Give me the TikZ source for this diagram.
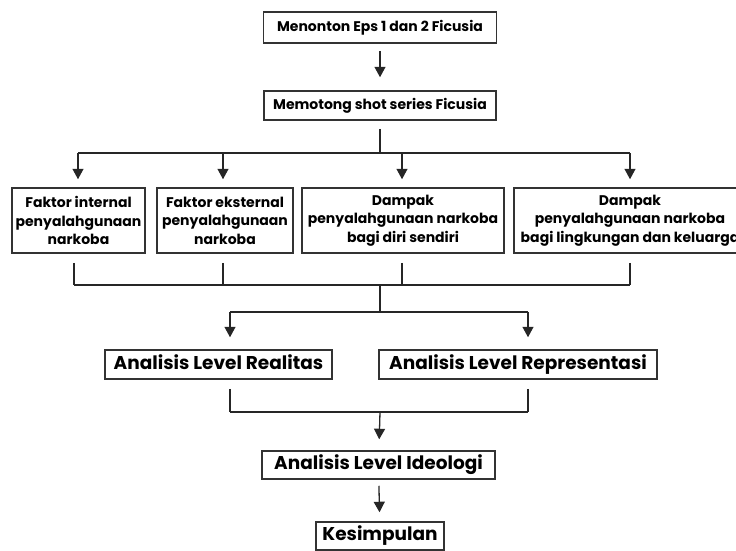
\documentclass[tikz,border=0pt]{standalone}
\usepackage{fontspec}
\setmainfont{Poppins}
\usetikzlibrary{arrows.meta}
\tikzstyle{box}=[draw=black!80,line width=1.5pt,inner sep=0pt,align=center,font=\bfseries\fontsize{14}{18.5}\selectfont]
\tikzstyle{single}=[box,text height=10pt,text depth=3pt]
\tikzstyle{level}=[box,font=\bfseries\fontsize{18.5}{20}\selectfont,text height=13pt,text depth=4pt]
\tikzstyle{arrow}=[->,>={Triangle[length=10.5pt,width=11pt]}]
\tikzset{every picture/.style={
    line width=1.3pt
  }
}

\begin{document}
\begin{tikzpicture}[x=1pt,y=-1pt,draw=black!85]
      \useasboundingbox (0,0) rectangle (736,550);
      % boxes
      \node[single,minimum width=233,minimum height=31] at (380,27.5) (eps) {Menonton Eps 1 dan 2 Ficusia};
      \node[single,minimum width=232,minimum height=29] at (380,105.5) (shot) {Memotong shot series Ficusia};
      \node[box,minimum width=133,minimum height=65] at (78.5,220.5) (intern) {Faktor internal\\penyalahgunaan\\narkoba};
      \node[box,minimum width=136,minimum height=65] at (225,220.5) (ekstern) {Faktor eksternal\\penyalahgunaan\\narkoba};
      \node[box,minimum width=202,minimum height=65] at (403,220.5) (diri) {Dampak\\penyalahgunaan narkoba\\bagi diri sendiri};
      \node[box,minimum width=232,minimum height=65] at (630,220.5) (keluarga) {Dampak\\penyalahgunaan narkoba\\bagi lingkungan dan keluarga};
      \node[level,minimum width=227,minimum height=29] at (218.5,364.5) (realitas) {Analisis Level Realitas};
      \node[level,minimum width=278,minimum height=29] at (518,364.5) (repr) {Analisis Level Representasi};
      \node[level,minimum width=233,minimum height=28] at (378.5,465) (ideo) {Analisis Level Ideologi};
      \node[level,minimum width=128,minimum height=28] at (380,536) (kesim) {Kesimpulan};
      % connectors
      \coordinate (s0) at (380,153);
      \coordinate (sa) at (78,153);
      \coordinate (sb) at (223,153);
      \coordinate (sc) at (402,153);
      \coordinate (sd) at (630,153);
      \coordinate (ma) at (74,285);
      \coordinate (mb) at (223,285);
      \coordinate (mc) at (402,285);
      \coordinate (md) at (630,285);
      \coordinate (m0) at (380,285);
      \coordinate (t0) at (380,312);
      \coordinate (ta) at (230,312);
      \coordinate (tb) at (528,312);
      \coordinate (ua) at (230,412);
      \coordinate (ub) at (528,412);
      \coordinate (u0) at (380,412);
      \draw[arrow,shorten <=7pt,shorten >=13pt] (eps) -- (shot);
      \draw[shorten <=8pt] (shot) -- (s0);
      \draw (sa) -- (sd);
      \draw[arrow,shorten >=8pt] (sa) -- (sa |- intern.north);
      \draw[arrow,shorten >=8pt] (sb) -- (sb |- ekstern.north);
      \draw[arrow,shorten >=8pt] (sc) -- (sc |- diri.north);
      \draw[arrow,shorten >=8pt] (sd) -- (sd |- keluarga.north);
      \draw[shorten <=9pt] (ma |- intern.south) -- (ma);
      \draw[shorten <=9pt] (mb |- ekstern.south) -- (mb);
      \draw[shorten <=9pt] (mc |- diri.south) -- (mc);
      \draw[shorten <=9pt] (md |- keluarga.south) -- (md);
      \draw (ma) -- (md);
      \draw (m0) -- (t0);
      \draw (ta) -- (tb);
      \draw[arrow,shorten >=12pt] (ta) -- (ta |- realitas.north);
      \draw[arrow,shorten >=12pt] (tb) -- (tb |- repr.north);
      \draw[shorten <=9pt] (ua |- realitas.south) -- (ua);
      \draw[shorten <=9pt] (ub |- repr.south) -- (ub);
      \draw (ua) -- (ub);
      \draw[arrow,shorten >=11pt] (u0) -- (ideo);
      \draw[arrow,shorten <=6pt,shorten >=9pt] (ideo) -- (kesim);
    \end{tikzpicture}
\end{document}
